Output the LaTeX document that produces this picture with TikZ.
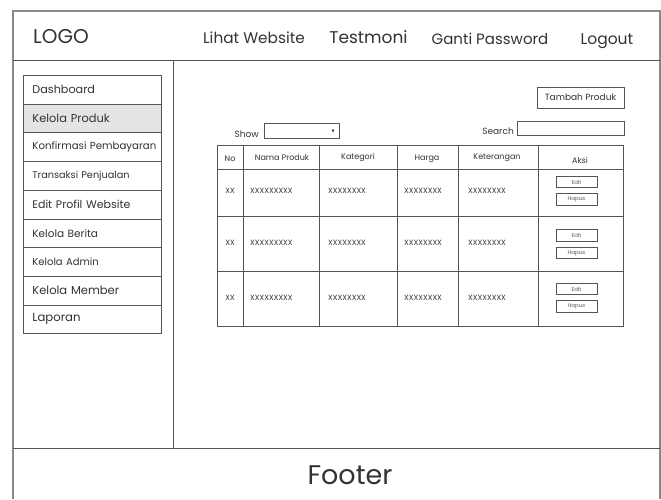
\documentclass[tikz,border=0pt]{standalone}
\usepackage{fontspec}
\setmainfont{Poppins}
\newcommand{\setfs}[1]{\fontsize{#1}{#1}\selectfont}
\definecolor{linec}{HTML}{555555}
\definecolor{framec}{HTML}{8A8A8A}
\definecolor{txtc}{HTML}{333333}
\definecolor{selc}{HTML}{E4E4E4}
\tikzset{
  frameline/.style={draw=framec, line width=1.2pt},
  sepline/.style={draw=linec, line width=1pt},
  menubox/.style={draw=linec, line width=0.9pt, minimum width=138pt, minimum height=28.7pt, anchor=north west, inner sep=0pt, text width=137pt, align=left, text=txtc, execute at begin node={\hspace*{8.5pt}}},
  navtxt/.style={text=txtc, inner sep=0pt, anchor=base},
  cellline/.style={draw=linec, line width=0.8pt},
  celltxt/.style={text=txtc, inner sep=0pt, font=\setfs{7.6}},
  headtxt/.style={text=txtc, inner sep=0pt, font=\setfs{8}},
  btn/.style={draw=linec, line width=0.7pt, minimum width=41pt, minimum height=11.5pt, inner sep=0pt, text=txtc!80, font=\setfs{5.5}},
  inbox/.style={draw=linec, line width=0.8pt, inner sep=0pt, anchor=north west},
}
\begin{document}
\begin{tikzpicture}[x=1pt, y=-1pt]
\useasboundingbox (0,0) rectangle (661,499);
\fill[white] (0,0) rectangle (661,499);
% outer frame
\draw[frameline] (13,499) -- (13,11) -- (660,11) -- (660,499);
\draw[sepline] (13,60) -- (660,60);
\draw[sepline] (173,60) -- (173,448);
\draw[sepline] (13,448) -- (660,448);
% header
\node[navtxt, font=\setfs{20}] (logo) at (61,43) {LOGO};
\node[navtxt, font=\setfs{15.3}] (lihat) at (254,43) {Lihat Website};
\node[navtxt, font=\setfs{17}] (testmoni) at (368.5,43) {Testmoni};
\node[navtxt, font=\setfs{15}] (ganti) at (490,44) {Ganti Password};
\node[navtxt, font=\setfs{15.5}] (logout) at (607,44) {Logout};
% sidebar menu
\node[menubox, font=\setfs{11.2}] (m1) at (23,75) {Dashboard};
\node[menubox, fill=selc, font=\setfs{11.4}] (m2) at (23,103.7) {Kelola Produk};
\node[menubox, font=\setfs{10.2}] (m3) at (23,132.4) {Konfirmasi Pembayaran};
\node[menubox, font=\setfs{9.7}] (m4) at (23,161.1) {Transaksi Penjualan};
\node[menubox, font=\setfs{11}] (m5) at (23,189.8) {Edit Profil Website};
\node[menubox, font=\setfs{10.5}] (m6) at (23,218.5) {Kelola Berita};
\node[menubox, font=\setfs{10}] (m7) at (23,247.2) {Kelola Admin};
\node[menubox, font=\setfs{11.5}] (m8) at (23,275.9) {Kelola Member};
\node[menubox, font=\setfs{11.7}] (m9) at (23,304.6) {Laporan};
% top controls
\node[draw=linec, line width=0.8pt, minimum width=87pt, minimum height=21pt, inner sep=0pt, text=txtc, font=\setfs{9}] (tambah) at (580.5,97.5) {Tambah Produk};
\node[text=txtc, inner sep=0pt, anchor=east, font=\setfs{9}] (search) at (514,131) {Search};
\node[inbox, minimum width=107pt, minimum height=14pt] (searchbox) at (517,121) {};
\node[text=txtc, inner sep=0pt, anchor=east, font=\setfs{9}] (show) at (259,134) {Show};
\node[inbox, minimum width=75pt, minimum height=15pt] (showbox) at (264,123) {};
\fill[txtc] (331.5,129.5) -- (334.5,129.5) -- (333,132.5) -- cycle;
% table grid
\draw[cellline] (217,145) rectangle (623,326);
\foreach \y in {169,216,271} \draw[cellline] (217,\y) -- (623,\y);
\foreach \x in {243,319,397,458,538} \draw[cellline] (\x,145) -- (\x,326);
% header cells
\node[headtxt] (hno) at (230,159) {No};
\node[headtxt] (hnama) at (282,158) {Nama Produk};
\node[headtxt] (hkat) at (358,158) {Kategori};
\node[headtxt] (hharga) at (427,159) {Harga};
\node[headtxt] (hket) at (497,158) {Keterangan};
\node[headtxt] (haksi) at (580,160) {Aksi};
% rows
\foreach \r/\yy/\b in {1/191/182, 2/243/235.5, 3/298/289} {
  \node[celltxt] (no\r) at (230,\yy) {XX};
  \node[celltxt, anchor=west] (nama\r) at (250,\yy) {XXXXXXXXX};
  \node[celltxt, anchor=west] (kat\r) at (328,\yy) {XXXXXXXX};
  \node[celltxt, anchor=west] (harga\r) at (404,\yy) {XXXXXXXX};
  \node[celltxt, anchor=west] (ket\r) at (468,\yy) {XXXXXXXX};
  \node[btn] (edit\r) at (576.5,\b) {Edit};
  \node[btn] (hapus\r) at (576.5,\b+17.5) {Hapus};
}
% footer
\node[text=txtc, inner sep=0pt, font=\setfs{27}] (footer) at (350,475) {Footer};
\end{tikzpicture}
\end{document}
